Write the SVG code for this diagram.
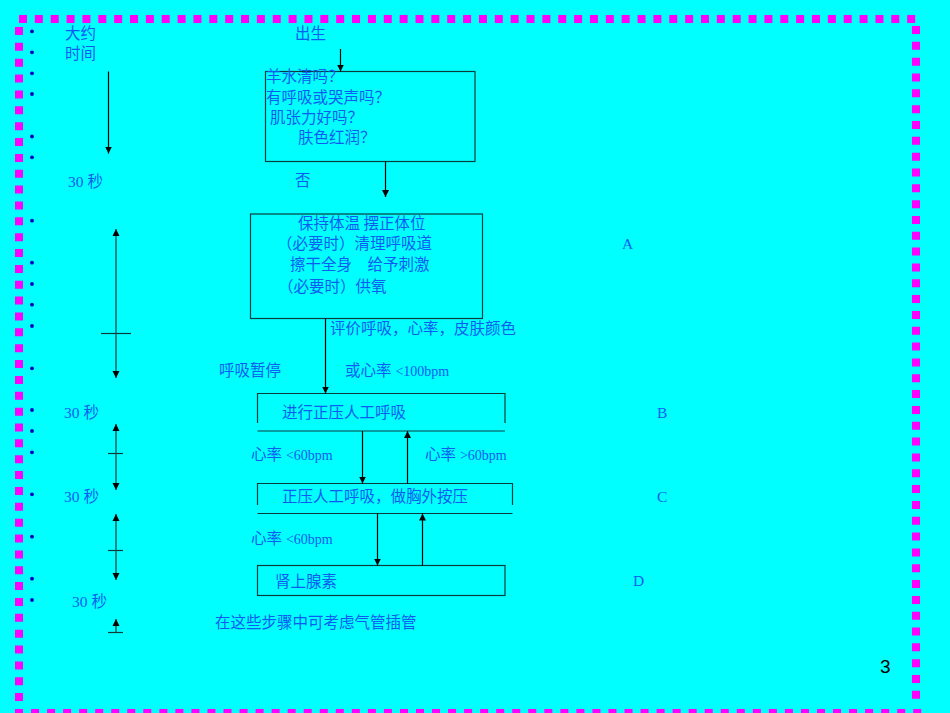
<svg xmlns="http://www.w3.org/2000/svg" width="950" height="713" viewBox="0 0 950 713">
<style>
.t{font-family:"Liberation Serif","Noto Sans CJK SC",serif;font-size:15.5px;fill:#0a5cf2}
.k{font-family:"Noto Sans CJK SC","Liberation Serif",serif;font-size:15.5px;fill:#0a5cf2}
.l{font-size:14px}
.n{font-family:"Liberation Sans",Arial,sans-serif;font-size:19px;fill:#000}
.b{fill:none;stroke:#0a3c3c;stroke-width:1.2}
.c{fill:none;stroke:#000;stroke-width:1.2}
.d{fill:#0000c8}
.bd{stroke:#ff00ff;stroke-width:8;fill:none}
</style>
<defs>
<marker id="ah" viewBox="0 0 10 10" refX="10" refY="5" markerWidth="7" markerHeight="8" markerUnits="userSpaceOnUse" orient="auto-start-reverse"><path d="M0,0 L10,5 L0,10 z" fill="#000"/></marker>
</defs>
<rect width="950" height="713" fill="#00ffff"/>
<g id="border">
<line class="bd" x1="19" y1="19" x2="916" y2="19" stroke-dasharray="8 7.86"/>
<line class="bd" x1="916" y1="26" x2="916" y2="705" stroke-dasharray="8 7.83"/>
<line class="bd" x1="19" y1="27" x2="19" y2="705" stroke-dasharray="8 7.86"/>
<line class="bd" x1="15" y1="713" x2="922" y2="713" stroke-dasharray="8 8.04"/>
</g>
<g id="bullets">
<circle class="d" cx="32" cy="31.4" r="1.9"/><circle class="d" cx="32" cy="52.3" r="1.9"/><circle class="d" cx="32" cy="73.3" r="1.9"/><circle class="d" cx="32" cy="94" r="1.9"/><circle class="d" cx="32" cy="136.5" r="1.9"/><circle class="d" cx="32" cy="157.3" r="1.9"/><circle class="d" cx="32" cy="220.7" r="1.9"/><circle class="d" cx="32" cy="262.7" r="1.9"/><circle class="d" cx="32" cy="284" r="1.9"/><circle class="d" cx="32" cy="304.7" r="1.9"/><circle class="d" cx="32" cy="326" r="1.9"/><circle class="d" cx="32" cy="368.3" r="1.9"/><circle class="d" cx="32" cy="410" r="1.9"/><circle class="d" cx="32" cy="431" r="1.9"/><circle class="d" cx="32" cy="452.3" r="1.9"/><circle class="d" cx="32" cy="494.3" r="1.9"/><circle class="d" cx="32" cy="536.7" r="1.9"/><circle class="d" cx="32" cy="578.7" r="1.9"/><circle class="d" cx="32" cy="600" r="1.9"/>
</g>
<g id="labels">
<text class="k" x="65" y="39">大约</text>
<text class="k" x="65" y="59">时间</text>
<text class="k" x="295" y="39">出生</text>
<text class="t" x="68" y="186.5">30 秒</text>
<text class="k" x="295" y="186">否</text>
<text class="k" x="330" y="333.5">评价呼吸，心率，皮肤颜色</text>
<text class="k" x="219" y="376">呼吸暂停</text>
<text class="t" x="345" y="376">或心率 <tspan class="l">&lt;100bpm</tspan></text>
<text class="t" x="622" y="249">A</text>
<text class="t" x="64" y="418">30 秒</text>
<text class="t" x="657" y="418">B</text>
<text class="t" x="251" y="460">心率 <tspan class="l">&lt;60bpm</tspan></text>
<text class="t" x="425" y="460">心率 <tspan class="l">&gt;60bpm</tspan></text>
<text class="t" x="64" y="502">30 秒</text>
<text class="t" x="657" y="502">C</text>
<text class="t" x="251" y="544">心率 <tspan class="l">&lt;60bpm</tspan></text>
<text class="t" x="633" y="586">D</text>
<text class="t" x="72" y="606.5">30 秒</text>
<text class="k" x="215" y="627.5">在这些步骤中可考虑气管插管</text>
<text class="n" x="880" y="673">3</text>
</g>
<g id="node-assess">
<rect class="b" x="265.5" y="71.5" width="209.5" height="90"/>
<text class="k" x="266" y="82">羊水清吗？</text>
<text class="k" x="266" y="102.5">有呼吸或哭声吗？</text>
<text class="k" x="270" y="123">肌张力好吗？</text>
<text class="k" x="298" y="143">肤色红润？</text>
</g>
<g id="node-initial">
<rect class="b" x="250.5" y="214" width="232" height="104.5"/>
<text class="k" x="298" y="228.5">保持体温 摆正体位</text>
<text class="k" x="277" y="249">（必要时）清理呼吸道</text>
<text class="k" x="290" y="270">擦干全身　给予刺激</text>
<text class="k" x="278" y="291.5">（必要时）供氧</text>
</g>
<g id="node-ppv">
<path class="b" d="M257.5,423 V393.5 H505 V423 M257.5,431 H505"/>
<text class="k" x="282" y="418">进行正压人工呼吸</text>
</g>
<g id="node-cpr">
<path class="b" d="M257.5,505 V483.5 H512.5 V505 M257.5,513.5 H512.5"/>
<text class="k" x="282" y="502">正压人工呼吸，做胸外按压</text>
</g>
<g id="node-epi">
<rect class="b" x="257.5" y="565.5" width="247.5" height="30"/>
<text class="k" x="275" y="586.5">肾上腺素</text>
</g>
<g id="connectors">
<line class="c" x1="340.5" y1="49" x2="340.5" y2="71.5" marker-end="url(#ah)"/>
<line class="c" x1="108.5" y1="71.5" x2="108.5" y2="153.5" marker-end="url(#ah)"/>
<line class="c" x1="385.5" y1="161.5" x2="385.5" y2="197" marker-end="url(#ah)"/>
<line class="c" x1="325.5" y1="318.5" x2="325.5" y2="393.5" marker-end="url(#ah)"/>
<line class="c" x1="362.5" y1="431" x2="362.5" y2="483.5" marker-end="url(#ah)"/>
<line class="c" x1="407.5" y1="483.5" x2="407.5" y2="431" marker-end="url(#ah)"/>
<line class="c" x1="377.5" y1="513.5" x2="377.5" y2="565.5" marker-end="url(#ah)"/>
<line class="c" x1="422.5" y1="565.5" x2="422.5" y2="513.5" marker-end="url(#ah)"/>
<line class="b" x1="116" y1="229" x2="116" y2="378" marker-start="url(#ah)" marker-end="url(#ah)"/>
<line class="b" x1="101" y1="333.5" x2="131" y2="333.5"/>
<line class="b" x1="116" y1="424" x2="116" y2="490" marker-start="url(#ah)" marker-end="url(#ah)"/>
<line class="b" x1="108" y1="453.5" x2="123" y2="453.5"/>
<line class="b" x1="116" y1="514" x2="116" y2="580" marker-start="url(#ah)" marker-end="url(#ah)"/>
<line class="b" x1="108" y1="550.5" x2="123" y2="550.5"/>
<line class="b" x1="116" y1="633" x2="116" y2="619" marker-end="url(#ah)"/>
<line class="b" x1="108" y1="632.5" x2="123" y2="632.5"/>
</g>
</svg>
